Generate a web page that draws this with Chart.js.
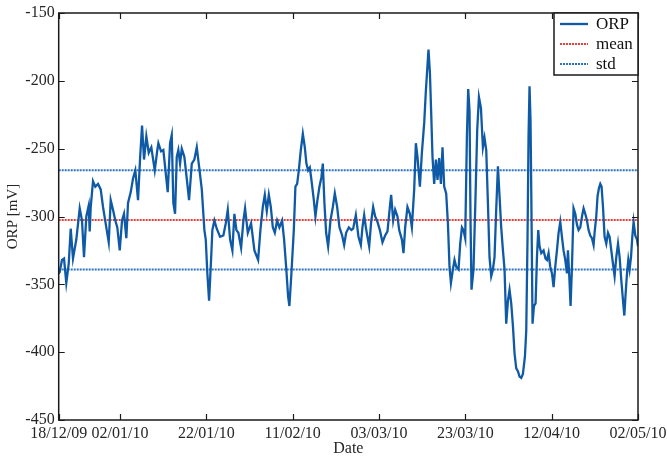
<!DOCTYPE html>
<html>
<head>
<meta charset="utf-8">
<script src="https://cdn.jsdelivr.net/npm/chart.js@4/dist/chart.umd.min.js"></script>
<style>
  html, body { margin: 0; padding: 0; background: #ffffff; }
  #wrap { width: 667px; height: 459px; position: relative; }
</style>
</head>
<body>
<div id="wrap"><canvas id="c" width="667" height="459"></canvas></div>
<script>
// ---- data (days since 18/12/09) ----
const DAYS = [0.79,1.02,1.55,2.02,2.55,3.11,3.57,4.10,4.87,5.66,6.19,6.65,7.19,7.74,7.97,8.21,8.74,9.27,9.90,10.52,11.06,11.82,12.38,12.84,13.37,13.91,14.37,14.93,15.46,15.92,16.46,16.85,17.48,18.01,18.54,19.17,19.63,20.10,20.56,21.09,21.65,22.25,23.04,23.64,23.88,24.50,25.03,25.43,26.05,26.59,26.98,27.35,27.75,28.14,28.51,28.91,29.30,29.90,30.46,30.99,31.62,32.22,32.78,33.31,33.94,34.54,34.86,35.23,35.63,36.09,36.39,36.86,37.41,38.18,38.94,39.50,39.96,40.50,41.03,41.49,41.96,42.42,43.05,43.58,43.97,44.60,45.36,46.13,46.99,47.52,48.08,48.54,49.00,49.47,49.93,50.39,50.86,51.39,51.92,52.55,53.01,53.48,53.94,54.24,54.70,55.26,55.63,56.03,56.42,56.88,57.35,57.81,58.18,58.58,58.97,59.34,59.90,60.27,60.73,61.20,61.66,61.98,62.35,62.75,63.21,63.75,64.30,64.76,65.30,65.83,66.46,66.92,67.38,68.01,68.61,69.01,69.63,70.24,70.79,71.16,71.56,71.95,72.32,72.72,73.18,73.64,74.11,74.64,75.20,75.80,76.42,76.96,77.51,77.81,78.28,78.74,79.28,79.67,80.30,80.67,81.06,81.59,82.15,82.61,83.15,83.54,83.91,84.47,84.93,85.47,85.86,86.16,86.46,86.79,87.09,87.39,87.78,88.18,88.55,88.94,89.34,89.71,90.10,90.56,90.96,91.33,91.66,92.12,92.49,92.88,93.42,93.81,94.21,94.57,94.97,95.36,95.66,95.97,96.20,96.43,96.89,97.36,97.75,98.15,98.61,99.07,99.44,99.84,100.23,100.60,100.99,101.39,101.76,102.15,102.55,102.92,103.31,103.71,104.08,104.47,104.87,105.24,105.63,106.03,106.40,106.79,107.18,107.56,107.95,108.34,108.81,109.11,109.41,109.64,109.87,110.10,110.34,110.57,110.89,111.27,111.59,111.89,112.19,112.59,113.12,113.58,113.91,114.28,114.67,115.07,115.44,115.83,116.22,116.60,116.99,117.38,117.75,118.15,118.54,118.77,119.08,119.38,119.70,120.07,120.47,120.86,121.23,121.63,122.02,122.39,122.78,123.18,123.55,123.94,124.33,124.71,124.94,125.33,125.63,125.96,126.26,126.56,126.89,127.26,127.65,128.05,128.42,128.81,129.21,129.58,129.97,130.37,130.74,131.13,131.53,131.83,132.13,132.45,132.75,133.05,133.38,133.68,133.98,134.37,134.77,135.0];
const ORP = [-342,-341,-332,-331,-349,-335,-309,-331,-317,-294,-303,-330,-300,-292,-311,-293,-274,-278,-276,-280,-293,-308,-319,-288,-295,-303,-308,-325,-303,-298,-316,-290,-282,-272,-266,-288,-258,-233,-258,-241,-253,-249,-266,-251,-246,-252,-251,-263,-282,-246,-240,-290,-298,-256,-251,-261,-250,-256,-272,-288,-261,-258,-249,-263,-280,-310,-317,-342,-362,-332,-310,-303,-309,-315,-314,-305,-295,-317,-325,-298,-310,-312,-323,-303,-294,-312,-305,-325,-332,-310,-293,-284,-296,-284,-293,-308,-312,-303,-308,-303,-317,-337,-359,-366,-342,-310,-278,-276,-266,-251,-239,-249,-261,-266,-264,-273,-288,-300,-288,-278,-271,-261,-290,-312,-322,-303,-293,-283,-293,-308,-314,-321,-312,-308,-310,-309,-299,-315,-321,-308,-299,-308,-315,-322,-304,-293,-300,-304,-310,-319,-314,-311,-293,-284,-303,-295,-300,-310,-317,-327,-308,-293,-298,-308,-280,-246,-256,-278,-253,-231,-207,-192,-177,-194,-224,-256,-276,-258,-273,-257,-276,-249,-278,-283,-305,-337,-349,-339,-332,-337,-339,-320,-308,-310,-316,-241,-206,-222,-303,-354,-339,-285,-236,-212,-220,-249,-242,-251,-290,-330,-344,-339,-330,-295,-263,-285,-308,-325,-339,-379,-362,-354,-364,-381,-401,-412,-414,-418,-419,-416,-403,-384,-315,-241,-204,-229,-303,-379,-366,-364,-330,-310,-322,-327,-325,-331,-332,-327,-337,-342,-352,-337,-325,-312,-304,-315,-325,-332,-342,-325,-344,-366,-337,-294,-298,-306,-310,-308,-300,-294,-298,-303,-310,-314,-316,-321,-312,-300,-285,-279,-276,-278,-293,-315,-320,-312,-315,-325,-335,-344,-330,-320,-330,-347,-362,-373,-357,-342,-332,-339,-330,-315,-304,-314,-317,-322];
const MEAN = -302.5;
const STD = 36.5;
const X_TICK_DAYS = [0.79, 15, 35, 55, 75, 95, 115, 135];
const X_TICK_LABELS = ['18/12/09','02/01/10','22/01/10','11/02/10','03/03/10','23/03/10','12/04/10','02/05/10'];
const Y_TICKS = [-450,-400,-350,-300,-250,-200,-150];
const X_MIN = 0.79, X_MAX = 135;

const FONT = "'Liberation Serif', 'Times New Roman', serif";
const orpPts = DAYS.map((d, i) => ({ x: d, y: ORP[i] }));
const hline = v => [{ x: X_MIN, y: v }, { x: X_MAX, y: v }];

const framePlugin = {
  id: 'frame',
  afterDraw(chart) {
    const ctx = chart.ctx;
    const { left, right, top, bottom } = chart.chartArea;
    const xs = chart.scales.x, ys = chart.scales.y;
    ctx.save();
    ctx.strokeStyle = '#1a1a1a';
    ctx.lineWidth = 1.5;
    ctx.strokeRect(left, top, right - left, bottom - top);
    ctx.lineWidth = 1.2;
    ctx.beginPath();
    xs.ticks.forEach(t => {
      const px = Math.round(xs.getPixelForValue(t.value)) + 0.5;
      ctx.moveTo(px, bottom); ctx.lineTo(px, bottom - 6);
      ctx.moveTo(px, top); ctx.lineTo(px, top + 6);
    });
    ys.ticks.forEach(t => {
      const py = Math.round(ys.getPixelForValue(t.value)) + 0.5;
      ctx.moveTo(left, py); ctx.lineTo(left + 6, py);
      ctx.moveTo(right, py); ctx.lineTo(right - 6, py);
    });
    ctx.stroke();

    // legend box in the top-right corner
    const seen = new Set();
    const items = chart.data.datasets.filter(d => { if (seen.has(d.label)) return false; seen.add(d.label); return true; });
    const w = 84, rowH = 20, h = items.length * rowH + 2;
    const bx = right - w, by = top;
    ctx.fillStyle = '#ffffff';
    ctx.fillRect(bx, by, w, h);
    ctx.strokeStyle = '#1a1a1a';
    ctx.lineWidth = 1.5;
    ctx.strokeRect(bx, by, w, h);
    ctx.font = '17px ' + FONT;
    ctx.textBaseline = 'middle';
    items.forEach((d, i) => {
      const cy = by + 11 + i * rowH;
      ctx.beginPath();
      ctx.strokeStyle = d.borderColor;
      ctx.lineWidth = d.borderWidth;
      ctx.setLineDash(d.borderDash || []);
      ctx.moveTo(bx + 6, cy); ctx.lineTo(bx + 34, cy);
      ctx.stroke();
      ctx.setLineDash([]);
      ctx.fillStyle = '#111';
      ctx.fillText(d.label, bx + 42, cy + 1);
    });
    ctx.restore();
  }
};

new Chart(document.getElementById('c'), {
  type: 'line',
  data: {
    datasets: [
      { label: 'ORP', data: orpPts, borderColor: '#0f5aa6', borderWidth: 2.3, pointRadius: 0, tension: 0, fill: false },
      { label: 'mean', data: hline(MEAN), borderColor: '#e8403a', borderWidth: 2, borderDash: [2, 1], pointRadius: 0, fill: false },
      { label: 'std', data: hline(MEAN + STD), borderColor: '#2e74c4', borderWidth: 2, borderDash: [2, 1], pointRadius: 0, fill: false },
      { label: 'std', data: hline(MEAN - STD), borderColor: '#2e74c4', borderWidth: 2, borderDash: [2, 1], pointRadius: 0, fill: false }
    ]
  },
  options: {
    responsive: false,
    animation: false,
    parsing: true,
    layout: { padding: { top: 13, right: 29, left: 4, bottom: 0 } },
    plugins: { legend: { display: false }, tooltip: { enabled: false } },
    scales: {
      x: {
        type: 'linear', min: X_MIN, max: X_MAX,
        afterBuildTicks: s => { s.ticks = X_TICK_DAYS.map(v => ({ value: v })); },
        afterFit: s => { s.height = 39; s.paddingLeft = 0; s.paddingRight = 0; },
        grid: { display: false, drawTicks: false },
        border: { display: false },
        ticks: {
          autoSkip: false, maxRotation: 0, padding: 4, color: '#262626',
          font: { family: FONT, size: 16 },
          callback: (v, i) => X_TICK_LABELS[i]
        },
        title: { display: true, text: 'Date', color: '#262626', font: { family: FONT, size: 16 }, padding: { top: 0, bottom: 1 } }
      },
      y: {
        type: 'linear', min: -450, max: -150,
        afterBuildTicks: s => { s.ticks = Y_TICKS.map(v => ({ value: v })); },
        afterFit: s => { s.width = 54.7; s.paddingTop = 0; s.paddingBottom = 0; },
        grid: { display: false, drawTicks: false },
        border: { display: false },
        ticks: { padding: 4, color: '#262626', font: { family: FONT, size: 16 } },
        title: { display: true, text: 'ORP [mV]', color: '#262626', font: { family: FONT, size: 15 }, padding: { top: 0, bottom: 0 } }
      }
    }
  },
  plugins: [framePlugin]
});
</script>
</body>
</html>
